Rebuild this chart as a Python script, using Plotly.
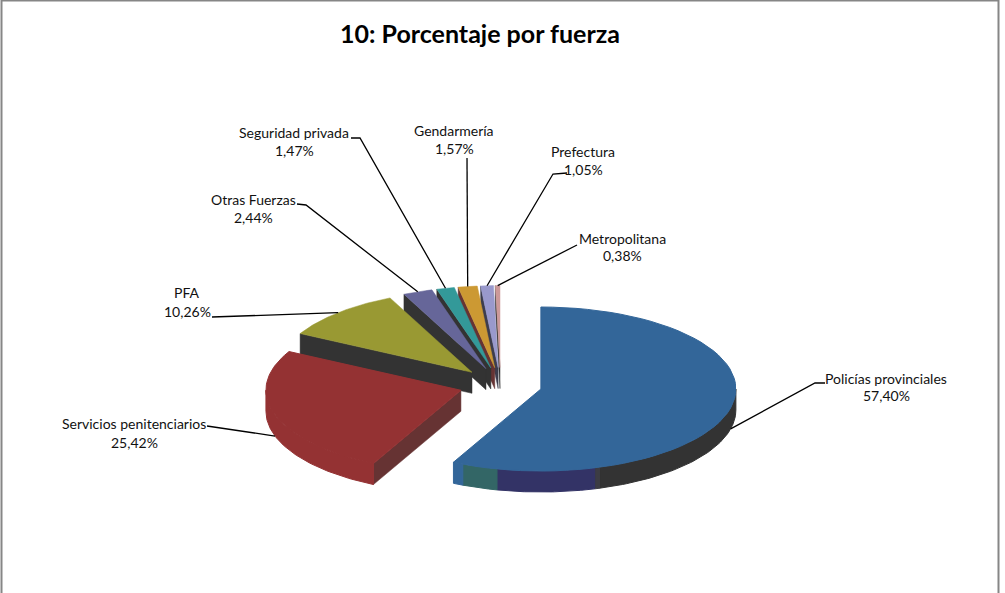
import math
import plotly.graph_objects as go

# Series: share of each force, in percent, in drawing order around the pie
categories = ["Policías provinciales", "Servicios penitenciarios", "PFA", "Otras Fuerzas",
              "Seguridad privada", "Gendarmería", "Prefectura", "Metropolitana"]
values = [57.40, 25.42, 10.26, 2.44, 1.47, 1.57, 1.05, 0.38]
top_colors = ["#336699", "#943233", "#999933", "#666699", "#339999", "#CC9933", "#9999CC", "#CC9999"]
cut_colors = [None, "#663333", "#333333", "#333333", "#333333", "#663333", "#3D3D4D", "#333333"]

# Outer rim of the two front slices: colour bands between rim angles, clockwise from the top
rim_bands = {
    0: [(90.0, 162.5, "#333333"), (162.5, 164.0, "#3C3C44"), (164.0, 193.0, "#333366"),
        (193.0, 203.6, "#336666"), (203.6, 206.64, "#336699")],
    1: [(206.64, 270.0, "#943233")],
}

# Pie projection, in pixels of the 1005x593 page
CX, CY = 500.5, 385.0
RX, RY = 195.0, 82.0
DEPTH = 21.0
EXPLODE = 41.5

# Where each label sits: centre x, y of first line, y of second line
label_pos = [(886, 378, 395), (134, 423, 442), (187, 292, 311), (253, 199, 217),
             (294, 132, 150), (454, 130, 148), (583, 151, 169), (622, 238, 255)]
# Start of each leader line, then its optional elbow
leader_from = [[(825, 383), (815, 383)], [(207, 426)], [(212, 317)], [(297, 204), (306, 205)],
               [(351, 138), (360, 138)], [(467, 158)], [(567, 173), (553, 174)], [(577, 245)]]
leader_drop = [True, True, False, False, False, False, False, False]


def rim_point(apex, angle_deg, drop=0.0):
    a = math.radians(angle_deg)
    return apex[0] + RX * math.sin(a), apex[1] - RY * math.cos(a) + drop


def arc(apex, start, stop, drop=0.0, n=60):
    return [rim_point(apex, start + (stop - start) * i / n, drop) for i in range(n + 1)]


def polygon(points, color, width=0.5):
    xs = [p[0] for p in points] + [points[0][0]]
    ys = [p[1] for p in points] + [points[0][1]]
    return go.Scatter(x=xs, y=ys, mode="lines", fill="toself", fillcolor=color,
                      line=dict(color=color, width=width), hoverinfo="skip", showlegend=False)


total = sum(values)
bounds = [0.0]
for v in values:
    bounds.append(bounds[-1] + 360.0 * v / total)

apexes = []
for i in range(len(values)):
    mid = math.radians((bounds[i] + bounds[i + 1]) / 2)
    apexes.append((CX + EXPLODE * math.sin(mid), CY - EXPLODE * RY / RX * math.cos(mid)))

fig = go.Figure()

# Slices are painted from the smallest at the back towards the front
for i in reversed(range(len(values))):
    start, stop = bounds[i], bounds[i + 1]
    apex = apexes[i]
    if cut_colors[i]:
        p = rim_point(apex, start)
        fig.add_trace(polygon([apex, p, (p[0], p[1] + DEPTH), (apex[0], apex[1] + DEPTH)], cut_colors[i]))
    for a0, a1, color in rim_bands.get(i, []):
        a1 = min(a1, stop)
        a0 = max(a0, start if i else 90.0)
        fig.add_trace(polygon(arc(apex, a0, a1) + arc(apex, a1, a0, DEPTH), color, width=1.0))
    fig.add_trace(polygon([apex] + arc(apex, start, stop), top_colors[i],
                          width=1.0 if i in rim_bands else 0.5))

# Leader lines run from each label to the middle of its slice's rim
for i in range(len(values)):
    mid = (bounds[i] + bounds[i + 1]) / 2
    end = rim_point(apexes[i], mid, DEPTH if leader_drop[i] else 0.0)
    pts = leader_from[i] + [end]
    fig.add_trace(go.Scatter(x=[p[0] for p in pts], y=[p[1] for p in pts], mode="lines",
                             line=dict(color="#000000", width=1.3), hoverinfo="skip", showlegend=False))

annotations = []
for i, name in enumerate(categories):
    x, y1, y2 = label_pos[i]
    pct = f"{values[i]:.2f}".replace(".", ",") + "%"
    for text, y in ((name, y1), (pct, y2)):
        annotations.append(dict(x=x, y=y, text=text, showarrow=False, xanchor="center", yanchor="middle",
                                font=dict(family="Lato", size=14, color="#111111")))
annotations.append(dict(x=479.5, y=33, text="<b>10: Porcentaje por fuerza</b>", showarrow=False,
                        xanchor="center", yanchor="middle",
                        font=dict(family="Lato", size=25, color="#000000")))

fig.update_layout(
    width=1005, height=593, margin=dict(l=0, r=0, t=0, b=0),
    paper_bgcolor="#ffffff", plot_bgcolor="#ffffff", showlegend=False,
    xaxis=dict(range=[0, 1005], visible=False, fixedrange=True),
    yaxis=dict(range=[593, 0], visible=False, fixedrange=True),
    annotations=annotations,
    shapes=[dict(type="rect", x0=1.5, y0=0.5, x1=998.5, y1=600,
                 line=dict(color="#868686", width=2), layer="below")],
)

fig.write_html("out.html")
